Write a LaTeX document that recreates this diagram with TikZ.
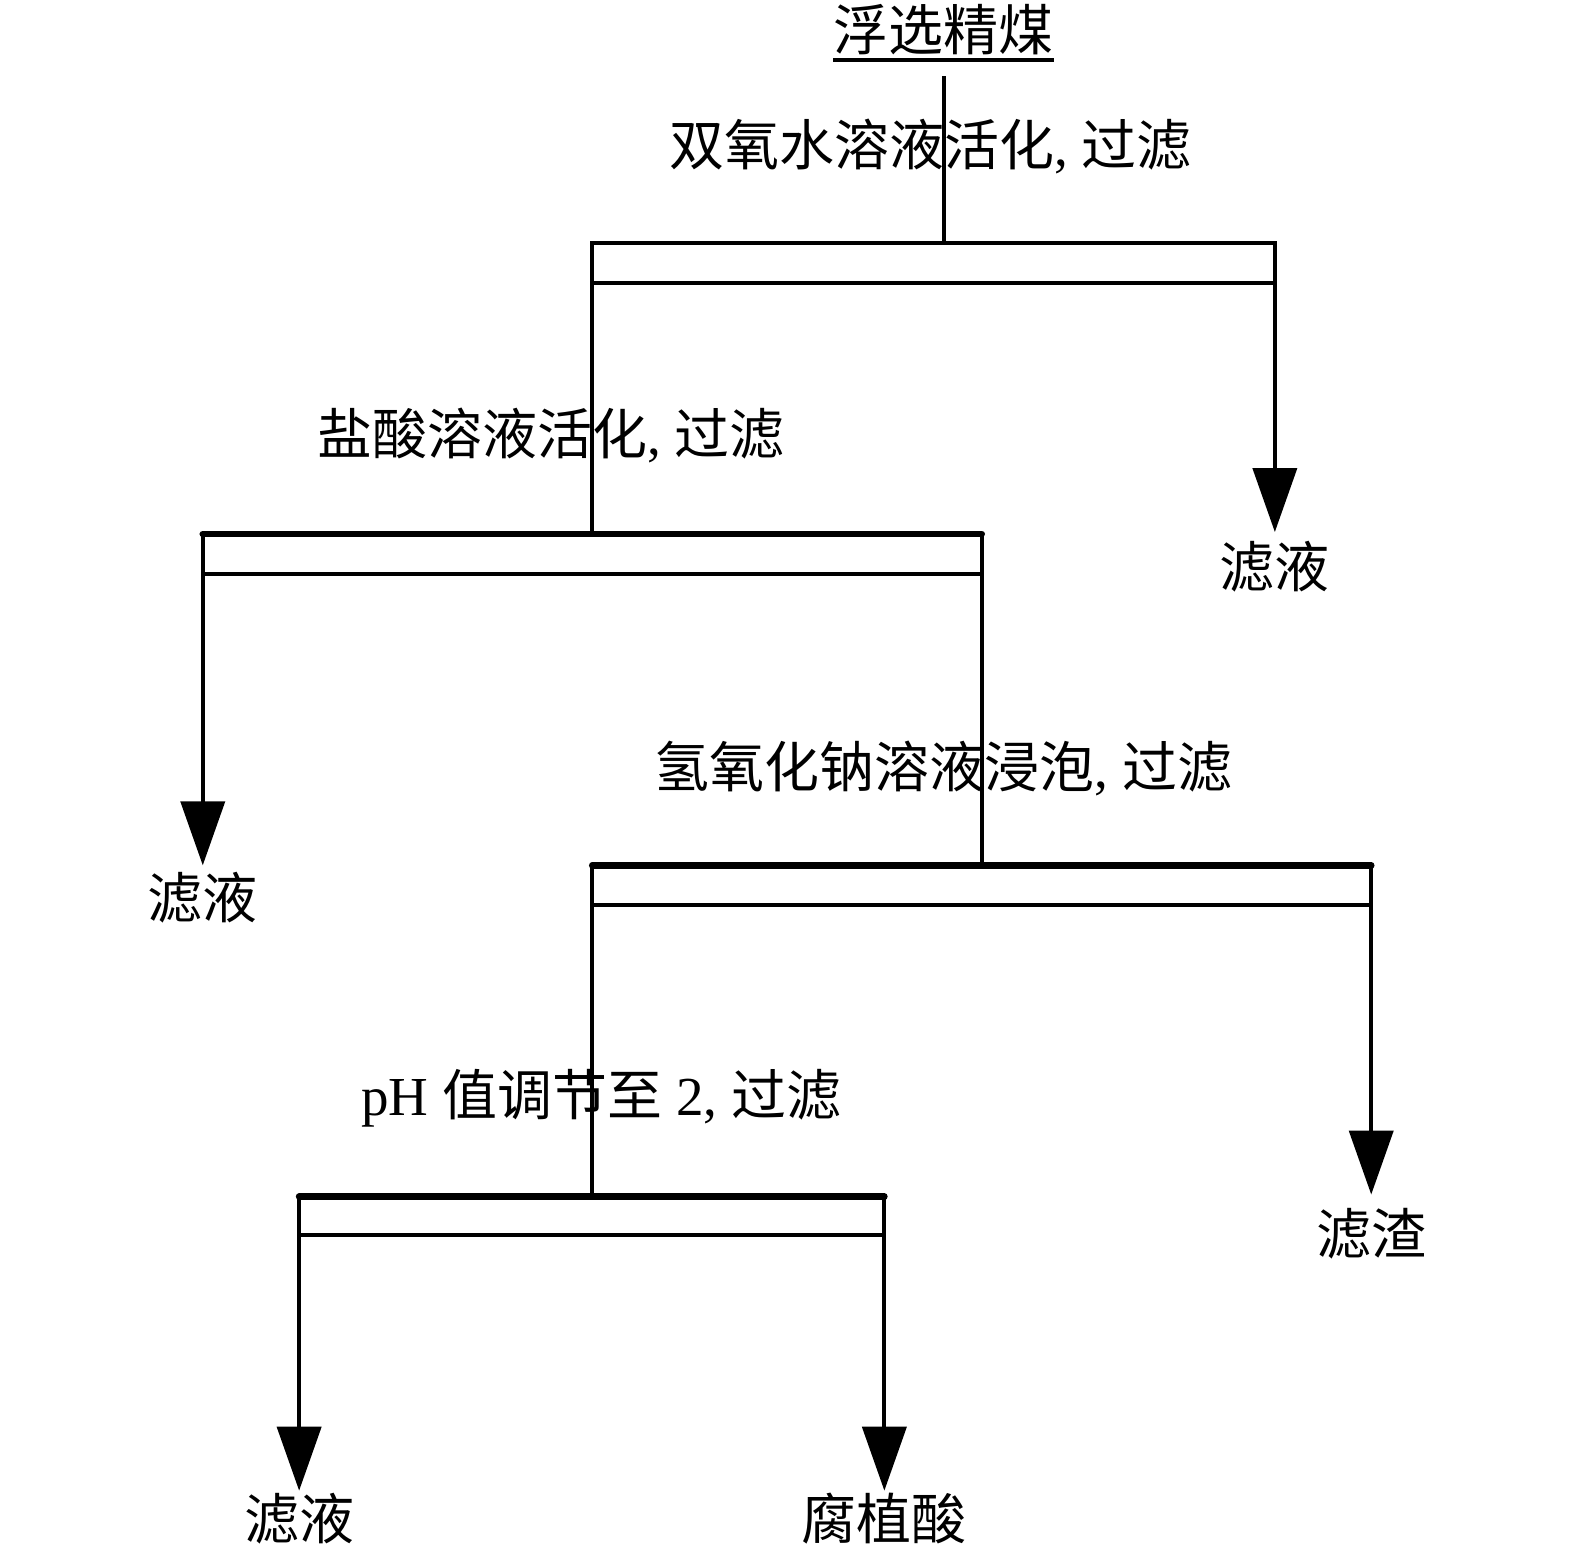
\documentclass[tikz,border=0pt]{standalone}
\usepackage{fontspec}
\setmainfont{Liberation Serif}
\newfontfamily\cjk{Noto Sans CJK SC}
\usetikzlibrary{arrows.meta}
\begin{document}
\begin{tikzpicture}[x=0.502bp, y=-0.502bp,
  every node/.style = {inner sep=0pt, font=\fontsize{27.6pt}{32pt}\selectfont},
  flow/.style = {line width=2bp},
  toprim/.style = {line width=3.3bp, line cap=round},
  outflow/.style = {flow, -{Triangle[length=32bp, width=22bp]}}]
  \useasboundingbox (0,0) rectangle (1569,1540);
  % feed
  \node (feed) at (940,29) {\cjk 浮选精煤};
  \coordinate (uline) at (0,60);
  \draw[flow] (feed.west |- uline) -- (feed.east |- uline);
  \coordinate (s0) at (940,76);
  % stage 1
  \coordinate (f1nw) at (590,242);
  \coordinate (f1se) at (1270,282);
  \draw[flow] (f1nw) rectangle (f1se);
  \draw[flow] (s0) -- (s0 |- f1nw);
  \node (step1) at (927,146) {{\cjk 双氧水溶液活化}, {\cjk 过滤}};
  \coordinate (t1) at (1270,530);
  \node (liq1) at (1270,564) {\cjk 滤液};
  \draw[outflow] (f1se) -- (t1);
  % stage 2
  \coordinate (f2nw) at (202,532);
  \coordinate (f2se) at (978,572);
  \draw[flow] (f2nw) rectangle (f2se);
  \draw[toprim] (f2nw) -- (f2nw -| f2se);
  \draw[flow] (f1nw |- f1se) -- (f1nw |- f2nw);
  \node (step2) at (549,434) {{\cjk 盐酸溶液活化}, {\cjk 过滤}};
  \coordinate (t2) at (202,862);
  \node (liq2) at (202,894) {\cjk 滤液};
  \draw[outflow] (f2nw |- f2se) -- (t2);
  % stage 3
  \coordinate (f3nw) at (590,862);
  \coordinate (f3se) at (1366,902);
  \draw[flow] (f3nw) rectangle (f3se);
  \draw[toprim] (f3nw) -- (f3nw -| f3se);
  \draw[flow] (f2se) -- (f2se |- f3nw);
  \node (step3) at (940,766) {{\cjk 氢氧化钠溶液浸泡}, {\cjk 过滤}};
  \coordinate (t3) at (1366,1190);
  \node (res3) at (1366,1229) {\cjk 滤渣};
  \draw[outflow] (f3se) -- (t3);
  % stage 4
  \coordinate (f4nw) at (298,1192);
  \coordinate (f4se) at (881,1230);
  \draw[flow] (f4nw) rectangle (f4se);
  \draw[toprim] (f4nw) -- (f4nw -| f4se);
  \draw[flow] (f3nw |- f3se) -- (f3nw |- f4nw);
  \node (step4) at (599,1094) {pH {\cjk 值调节至} 2, {\cjk 过滤}};
  \coordinate (t4a) at (298,1485);
  \coordinate (t4b) at (881,1485);
  \node (liq4) at (298,1513) {\cjk 滤液};
  \node (acid) at (881,1513) {\cjk 腐植酸};
  \draw[outflow] (f4nw |- f4se) -- (t4a);
  \draw[outflow] (f4se) -- (t4b);
\end{tikzpicture}
\end{document}
